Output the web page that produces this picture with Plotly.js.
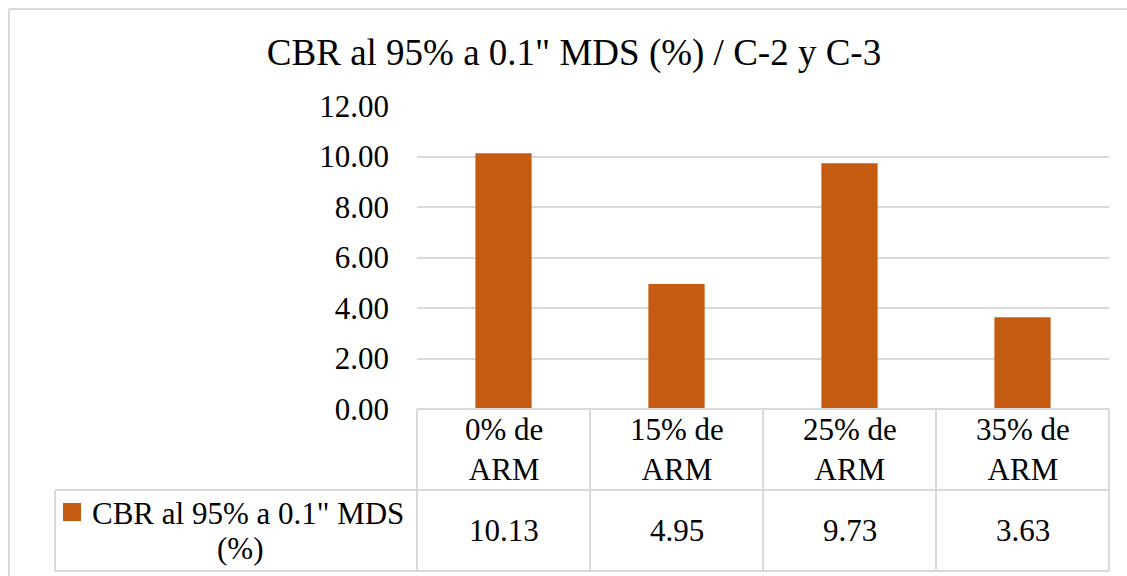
<!DOCTYPE html>
<html>
<head>
<meta charset="utf-8">
<script src="https://cdn.plot.ly/plotly-3.0.1.min.js"></script>
<style>
html,body{margin:0;padding:0;background:#fff;}
#chart{width:1127px;height:576px;}
</style>
</head>
<body>
<div id="chart"></div>
<script>
const categories = ["0% de<br>ARM", "15% de<br>ARM", "25% de<br>ARM", "35% de<br>ARM"];
const values = [10.13, 4.95, 9.73, 3.63];
const seriesName = "CBR al 95% a 0.1\" MDS (%)";
const chartTitle = "CBR al 95% a 0.1\" MDS (%) / C-2 y C-3";
const yTickVals = [0, 2, 4, 6, 8, 10, 12];

const W = 1127, H = 576;
const L = 417, R = 1109, T = 106, B = 409;
const rowMid = 490, rowBot = 571, tableLeft = 55;
const px = x => (x - L) / (R - L);
const py = y => (B - y) / (B - T);
const FONT = "'Liberation Serif', 'Times New Roman', serif";
const FS = 31;
const GRID = "#d9d9d9";
const BAR = "#c55a11";

const shapes = [];
const line = (x0, y0, x1, y1) => shapes.push({type:"line", xref:"paper", yref:"paper",
  x0:px(x0), y0:py(y0), x1:px(x1), y1:py(y1), line:{color:GRID, width:2}});
// outer chart border (cropped at right/bottom)
line(9, 9, W + 5, 9);
line(9, 9, 9, H + 5);
// table
line(L, B, R, B);
line(tableLeft, rowMid, R, rowMid);
line(tableLeft, rowBot, R, rowBot);
line(tableLeft, rowMid, tableLeft, rowBot);
const colW = (R - L) / categories.length;
for (let i = 0; i <= categories.length; i++) {
  line(L + i * colW, B, L + i * colW, rowBot);
}
// legend key
shapes.push({type:"rect", xref:"paper", yref:"paper", x0:px(63), x1:px(81), y0:py(521), y1:py(503),
  fillcolor:BAR, line:{width:0}});

const annotations = [];
categories.forEach((c, i) => {
  annotations.push({x:c, xref:"x", y:py(449), yref:"paper", text:c, showarrow:false,
    font:{family:FONT, size:FS, color:"#000"}, xanchor:"center", yanchor:"middle", align:"center"});
  annotations.push({x:c, xref:"x", y:py(530), yref:"paper", text:values[i].toFixed(2), showarrow:false,
    font:{family:FONT, size:FS, color:"#000"}, xanchor:"center", yanchor:"middle"});
});
const nameParts = seriesName.split(" (");
annotations.push({x:px(248), xref:"paper", y:py(513), yref:"paper", text:nameParts[0], showarrow:false,
  font:{family:FONT, size:FS, color:"#000"}, xanchor:"center", yanchor:"middle"});
annotations.push({x:px(240), xref:"paper", y:py(548), yref:"paper", text:"(" + nameParts[1], showarrow:false,
  font:{family:FONT, size:FS, color:"#000"}, xanchor:"center", yanchor:"middle"});

const data = [{
  type:"bar", x:categories, y:values, name:seriesName,
  marker:{color:BAR}, hoverinfo:"skip"
}];

const layout = {
  width:W, height:H,
  margin:{l:L, r:W - R, t:T, b:H - B, pad:0},
  paper_bgcolor:"#fff", plot_bgcolor:"#fff",
  title:{text:chartTitle, font:{family:FONT, size:37, color:"#000"}, x:574 / W, xanchor:"center", y:1 - 52 / H, yanchor:"middle"},
  showlegend:false,
  bargap:0.675,
  xaxis:{showticklabels:false, showgrid:false, zeroline:false, showline:false, ticks:"", fixedrange:true},
  yaxis:{range:[0, 12], tickvals:yTickVals, ticktext:yTickVals.map(v => v.toFixed(2)),
    showgrid:true, gridcolor:GRID, gridwidth:2, zeroline:false, showline:false, ticks:"",
    ticklabelstandoff:27,
    tickfont:{family:FONT, size:FS, color:"#000"}, fixedrange:true},
  shapes:shapes, annotations:annotations
};

Plotly.newPlot("chart", data, layout, {displayModeBar:false, staticPlot:true});
</script>
</body>
</html>
